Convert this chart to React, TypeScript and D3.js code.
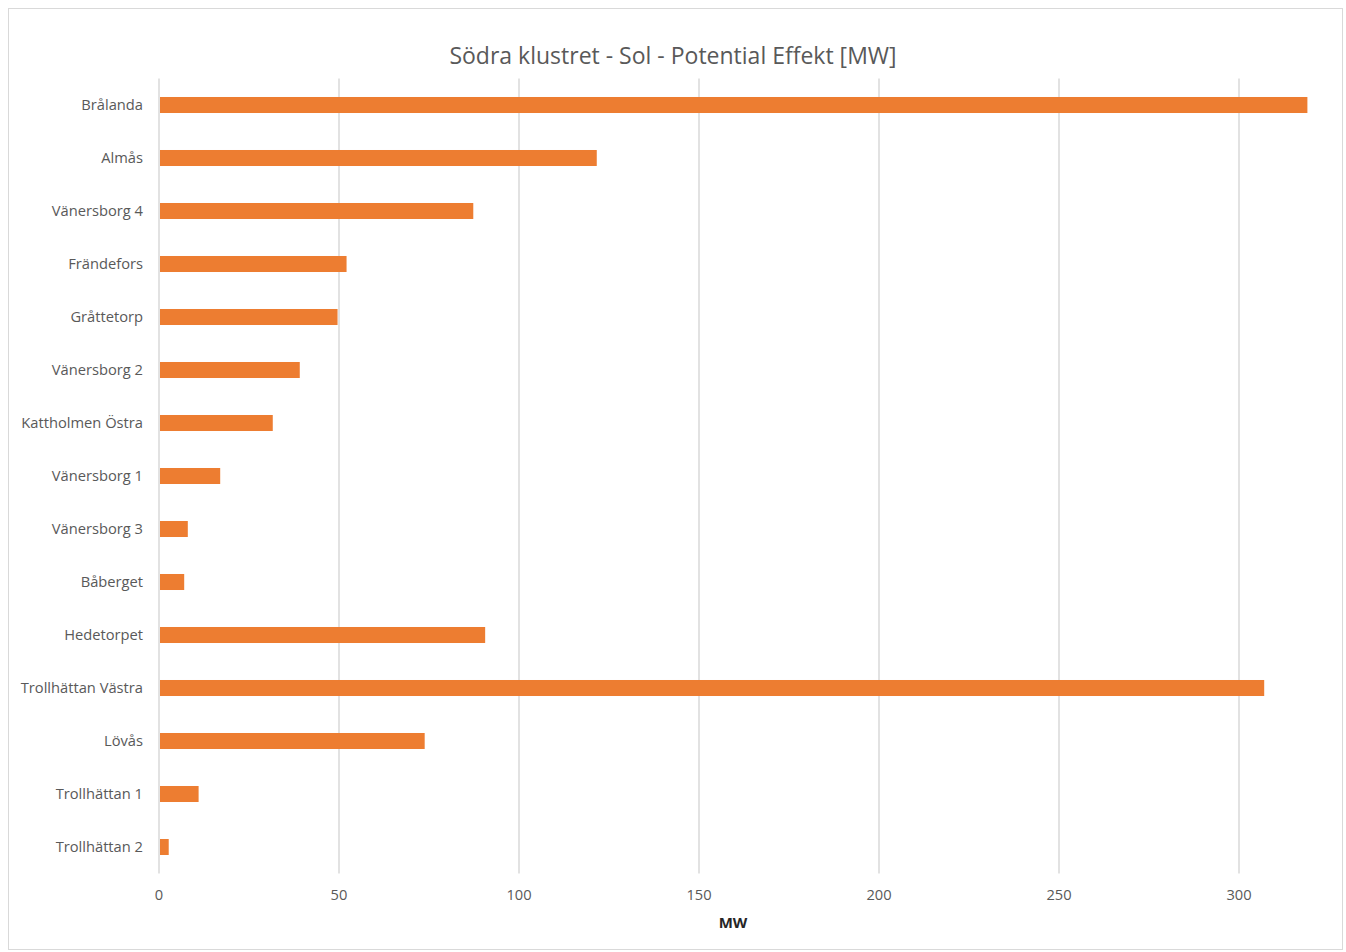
import React from "react";
import * as d3 from "d3";

const categories = [
  "Brålanda",
  "Almås",
  "Vänersborg 4",
  "Frändefors",
  "Gråttetorp",
  "Vänersborg 2",
  "Kattholmen Östra",
  "Vänersborg 1",
  "Vänersborg 3",
  "Båberget",
  "Hedetorpet",
  "Trollhättan Västra",
  "Lövås",
  "Trollhättan 1",
  "Trollhättan 2",
];
const values = [319, 121.6, 87.3, 52.1, 49.6, 39.1, 31.6, 17.0, 8.0, 7.0, 90.6, 307.0, 73.8, 11.0, 2.7];
const xTicks = [0, 50, 100, 150, 200, 250, 300];
const title = "Södra klustret - Sol - Potential Effekt [MW]";
const xTitle = "MW";

const W = 1346;
const H = 952;
const FONT = "'Open Sans', 'Noto Sans', sans-serif";

export default function App() {
  const left = 159;
  const top = 78.5;
  const bottom = 873.5;
  const x = d3.scaleLinear().domain([0, 320]).range([left, left + 320 * 3.6]);
  const y = d3
    .scaleBand<string>()
    .domain(categories)
    .range([top, bottom])
    .paddingInner(0.698)
    .paddingOuter(0.349);

  return (
    <svg
      width={W}
      height={H}
      style={{ position: "absolute", left: 0, top: 0, fontFamily: FONT }}
    >
      <rect x={0} y={0} width={W} height={H} fill="#fff" />
      <rect x={8.5} y={8.5} width={1334} height={941} fill="#fff" stroke="#d9d9d9" strokeWidth={1} />
      <text x={673} y={63.5} textAnchor="middle" fontSize={23} fill="#595959">
        {title}
      </text>
      {xTicks.map((t) => (
        <g key={t}>
          <line x1={x(t)} x2={x(t)} y1={top} y2={bottom} stroke="#d9d9d9" strokeWidth={1.5} />
          <text x={x(t)} y={900} textAnchor="middle" fontSize={14.7} fill="#595959">
            {t}
          </text>
        </g>
      ))}
      {categories.map((c, i) => (
        <g key={c}>
          <rect
            x={x(0) + 1}
            y={y(c)!}
            width={x(values[i]) - x(0) - 1}
            height={y.bandwidth()}
            fill="#ed7d31"
          />
          <text
            x={143}
            y={y(c)! + y.bandwidth() / 2}
            dy="0.35em"
            textAnchor="end"
            fontSize={14.7}
            fill="#595959"
          >
            {c}
          </text>
        </g>
      ))}
      <text x={733} y={928} textAnchor="middle" fontSize={15} fontWeight="bold" fill="#262626">
        {xTitle}
      </text>
    </svg>
  );
}
